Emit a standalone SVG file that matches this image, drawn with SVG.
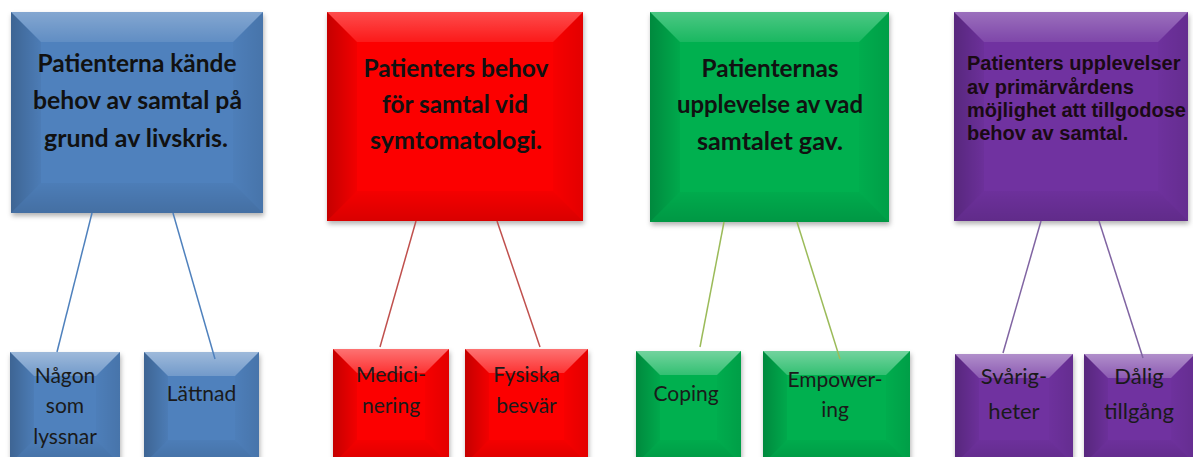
<svg xmlns="http://www.w3.org/2000/svg" width="1193" height="457" viewBox="0 0 1193 457">
<style>
.big{font-family:Lato,"Open Sans","Liberation Sans",sans-serif;font-weight:bold;font-size:24px;fill:#111;text-anchor:middle}
.big2{font-family:"Liberation Sans",Arial,sans-serif;font-weight:bold;font-size:20px;fill:#1a0a14}
.sm{font-family:Lato,"Open Sans","Liberation Sans",sans-serif;font-size:21px;fill:#1a1a1a;text-anchor:middle}
.smp{font-family:Lato,"Open Sans","Liberation Sans",sans-serif;font-size:22px;fill:#1a1a1a;text-anchor:middle}
.bt{fill:url(#gTop)}.bts{fill:url(#gTopS)}.bl{fill:url(#gLeft)}.br{fill:url(#gRight)}.bb{fill:url(#gBot)}
.blue{fill:#4f81bd}.red{fill:#fc0000}.green{fill:#00b050}.purple{fill:#7030a0}
.c{fill:none;stroke-width:1.5}
</style>
<defs>
<filter id="sh" x="-10%" y="-10%" width="125%" height="125%">
<feDropShadow dx="1" dy="3" stdDeviation="2.5" flood-color="#000" flood-opacity="0.3"/>
</filter>
<linearGradient id="gTop" x1="0" y1="0" x2="0" y2="1"><stop offset="0" stop-color="#fff" stop-opacity="0.3"/><stop offset="1" stop-color="#fff" stop-opacity="0.1"/></linearGradient>
<linearGradient id="gTopS" x1="0" y1="0" x2="0" y2="1"><stop offset="0" stop-color="#fff" stop-opacity="0.45"/><stop offset="1" stop-color="#fff" stop-opacity="0.2"/></linearGradient>
<linearGradient id="gLeft" x1="0" y1="0" x2="1" y2="0"><stop offset="0" stop-color="#000" stop-opacity="0.22"/><stop offset="1" stop-color="#000" stop-opacity="0.04"/></linearGradient>
<linearGradient id="gRight" x1="1" y1="0" x2="0" y2="0"><stop offset="0" stop-color="#000" stop-opacity="0.1"/><stop offset="1" stop-color="#000" stop-opacity="0.02"/></linearGradient>
<linearGradient id="gBot" x1="0" y1="1" x2="0" y2="0"><stop offset="0" stop-color="#000" stop-opacity="0.14"/><stop offset="1" stop-color="#000" stop-opacity="0.03"/></linearGradient>
</defs>
<rect width="1193" height="457" fill="#fff"/>

<g id="n-blue-main">
<rect class="blue" x="11" y="12" width="252" height="201" filter="url(#sh)"/>
<polygon class="bt" points="11,12 263,12 233,42 41,42"/>
<polygon class="bl" points="11,12 41,42 41,183 11,213"/>
<polygon class="br" points="263,12 263,213 233,183 233,42"/>
<polygon class="bb" points="11,213 41,183 233,183 263,213"/>
<text class="big" x="137" y="71.5" textLength="199" lengthAdjust="spacingAndGlyphs">Patienterna kände</text>
<text class="big" x="137.5" y="109" textLength="209" lengthAdjust="spacingAndGlyphs">behov av samtal på</text>
<text class="big" x="136" y="146.5" textLength="184" lengthAdjust="spacingAndGlyphs">grund av livskris.</text>
</g>

<g id="n-red-main">
<rect class="red" x="327" y="12" width="256" height="209" filter="url(#sh)"/>
<polygon class="bt" points="327,12 583,12 553,42 357,42"/>
<polygon class="bl" points="327,12 357,42 357,191 327,221"/>
<polygon class="br" points="583,12 583,221 553,191 553,42"/>
<polygon class="bb" points="327,221 357,191 553,191 583,221"/>
<text class="big" x="456" y="77" textLength="185" lengthAdjust="spacingAndGlyphs">Patienters behov</text>
<text class="big" x="455" y="113" textLength="146" lengthAdjust="spacingAndGlyphs">för samtal vid</text>
<text class="big" x="456" y="149" textLength="172" lengthAdjust="spacingAndGlyphs">symtomatologi.</text>
</g>

<g id="n-green-main">
<rect class="green" x="650" y="12" width="239" height="210" filter="url(#sh)"/>
<polygon class="bt" points="650,12 889,12 859,42 680,42"/>
<polygon class="bl" points="650,12 680,42 680,192 650,222"/>
<polygon class="br" points="889,12 889,222 859,192 859,42"/>
<polygon class="bb" points="650,222 680,192 859,192 889,222"/>
<text class="big" x="770" y="77" textLength="137" lengthAdjust="spacingAndGlyphs">Patienternas</text>
<text class="big" x="770" y="113" textLength="186" lengthAdjust="spacingAndGlyphs">upplevelse av vad</text>
<text class="big" x="770" y="150" textLength="146" lengthAdjust="spacingAndGlyphs">samtalet gav.</text>
</g>

<g id="n-purple-main">
<rect class="purple" x="954" y="12" width="234" height="209" filter="url(#sh)"/>
<polygon class="bt" points="954,12 1188,12 1158,42 984,42"/>
<polygon class="bl" points="954,12 984,42 984,191 954,221"/>
<polygon class="br" points="1188,12 1188,221 1158,191 1158,42"/>
<polygon class="bb" points="954,221 984,191 1158,191 1188,221"/>
<text class="big2" x="967" y="70">Patienters upplevelser</text>
<text class="big2" x="967" y="93.5">av primärvårdens</text>
<text class="big2" x="967" y="117">möjlighet att tillgodose</text>
<text class="big2" x="967" y="140">behov av samtal.</text>
</g>

<g id="n-nagon">
<rect class="blue" x="10" y="352" width="110" height="112" filter="url(#sh)"/>
<polygon class="bts" points="10,352 120,352 96,376 34,376"/>
<polygon class="bl" points="10,352 34,376 34,440 10,464"/>
<polygon class="br" points="120,352 120,464 96,440 96,376"/>
<polygon class="bb" points="10,464 34,440 96,440 120,464"/>
<text class="sm" x="65" y="383">Någon</text>
<text class="sm" x="65" y="413">som</text>
<text class="sm" x="65" y="444">lyssnar</text>
</g>

<g id="n-lattnad">
<rect class="blue" x="144" y="352" width="115" height="112" filter="url(#sh)"/>
<polygon class="bts" points="144,352 259,352 235,376 168,376"/>
<polygon class="bl" points="144,352 168,376 168,440 144,464"/>
<polygon class="br" points="259,352 259,464 235,440 235,376"/>
<polygon class="bb" points="144,464 168,440 235,440 259,464"/>
<text class="sm" x="201.5" y="401">Lättnad</text>
</g>

<g id="n-medicinering">
<rect class="red" x="333" y="349" width="116" height="115" filter="url(#sh)"/>
<polygon class="bts" points="333,349 449,349 425,373 357,373"/>
<polygon class="bl" points="333,349 357,373 357,440 333,464"/>
<polygon class="br" points="449,349 449,464 425,440 425,373"/>
<polygon class="bb" points="333,464 357,440 425,440 449,464"/>
<text class="sm" x="391" y="382">Medici-</text>
<text class="sm" x="391" y="413">nering</text>
</g>

<g id="n-fysiska">
<rect class="red" x="465" y="349" width="123" height="115" filter="url(#sh)"/>
<polygon class="bts" points="465,349 588,349 564,373 489,373"/>
<polygon class="bl" points="465,349 489,373 489,440 465,464"/>
<polygon class="br" points="588,349 588,464 564,440 564,373"/>
<polygon class="bb" points="465,464 489,440 564,440 588,464"/>
<text class="sm" x="526.5" y="382">Fysiska</text>
<text class="sm" x="526.5" y="413">besvär</text>
</g>

<g id="n-coping">
<rect class="green" x="636" y="351" width="105" height="113" filter="url(#sh)"/>
<polygon class="bts" points="636,351 741,351 717,375 660,375"/>
<polygon class="bl" points="636,351 660,375 660,440 636,464"/>
<polygon class="br" points="741,351 741,464 717,440 717,375"/>
<polygon class="bb" points="636,464 660,440 717,440 741,464"/>
<text class="sm" x="686" y="401">Coping</text>
</g>

<g id="n-empowering">
<rect class="green" x="763" y="351" width="147" height="113" filter="url(#sh)"/>
<polygon class="bts" points="763,351 910,351 886,375 787,375"/>
<polygon class="bl" points="763,351 787,375 787,440 763,464"/>
<polygon class="br" points="910,351 910,464 886,440 886,375"/>
<polygon class="bb" points="763,464 787,440 886,440 910,464"/>
<text class="sm" x="835" y="387">Empower-</text>
<text class="sm" x="835" y="417">ing</text>
</g>

<g id="n-svarigheter">
<rect class="purple" x="955" y="354" width="118" height="110" filter="url(#sh)"/>
<polygon class="bts" points="955,354 1073,354 1049,378 979,378"/>
<polygon class="bl" points="955,354 979,378 979,440 955,464"/>
<polygon class="br" points="1073,354 1073,464 1049,440 1049,378"/>
<polygon class="bb" points="955,464 979,440 1049,440 1073,464"/>
<text class="smp" x="1014" y="384">Svårig-</text>
<text class="smp" x="1014" y="419">heter</text>
</g>

<g id="n-dalig">
<rect class="purple" x="1084" y="354" width="111" height="110" filter="url(#sh)"/>
<polygon class="bts" points="1084,354 1195,354 1171,378 1108,378"/>
<polygon class="bl" points="1084,354 1108,378 1108,440 1084,464"/>
<polygon class="br" points="1195,354 1195,464 1171,440 1171,378"/>
<polygon class="bb" points="1084,464 1108,440 1171,440 1195,464"/>
<text class="smp" x="1139" y="384">Dålig</text>
<text class="smp" x="1139" y="419">tillgång</text>
</g>

<g id="connectors">
<line class="c" stroke="#4f81bd" x1="92" y1="213" x2="57" y2="352"/>
<line class="c" stroke="#4f81bd" x1="173" y1="213" x2="215" y2="359"/>
<line class="c" stroke="#c0504d" x1="416" y1="221" x2="380" y2="347"/>
<line class="c" stroke="#c0504d" x1="497" y1="221" x2="540" y2="347"/>
<line class="c" stroke="#9bbb59" x1="724" y1="222" x2="700" y2="347"/>
<line class="c" stroke="#9bbb59" x1="797" y1="222" x2="840" y2="359"/>
<line class="c" stroke="#8064a2" x1="1041" y1="221" x2="1003" y2="353"/>
<line class="c" stroke="#8064a2" x1="1099" y1="221" x2="1143" y2="358"/>
</g>
</svg>
